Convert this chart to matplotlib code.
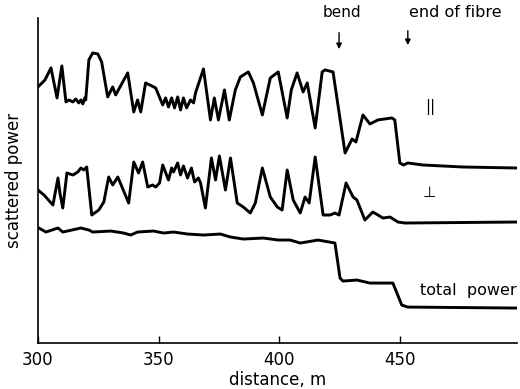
import matplotlib.pyplot as plt
import numpy as np

# distance (m) and scattered power (arbitrary units)
par_d = [300.0, 302.9, 305.4, 307.9, 309.9, 311.6, 312.8, 314.5, 315.7, 316.9, 317.8,
         318.6, 319.4, 319.8, 321.1, 322.7, 324.8, 326.4, 328.9, 331.0, 332.2, 337.2,
         339.7, 341.3, 342.6, 344.6, 348.8, 351.7, 352.9, 354.1, 355.4, 356.6, 357.9,
         359.1, 360.3, 361.6, 363.2, 364.5, 365.3, 368.6, 371.5, 373.1, 374.8, 377.3,
         379.3, 381.8, 383.9, 387.2, 389.3, 393.0, 396.3, 399.6, 403.3, 405.0, 407.4,
         409.9, 411.6, 414.9, 417.8, 419.0, 422.3, 427.3, 430.2, 431.8, 434.7, 437.6,
         440.9, 446.7, 447.9, 450.0, 451.5, 453.3, 459.5, 476.0, 498.3]
par_p = [256, 263, 275, 245, 277, 241, 243, 241, 244, 240, 243,
         239, 245, 243, 283, 290, 289, 281, 246, 256, 248, 270,
         231, 243, 231, 260, 255, 238, 245, 236, 245, 235, 246,
         233, 245, 235, 243, 240, 250, 274, 223, 245, 223, 253,
         223, 253, 266, 271, 260, 228, 265, 271, 225, 253, 270,
         251, 260, 215, 271, 273, 271, 190, 204, 201, 228, 219,
         223, 225, 223, 180, 178, 180, 178, 176, 175]

perp_d = [300.0, 302.5, 306.2, 308.3, 309.1, 310.3, 312.0, 314.5, 316.5, 317.8, 319.0,
          320.2, 322.3, 325.2, 327.3, 329.3, 331.0, 333.1, 337.6, 339.7, 341.7, 343.4,
          345.5, 347.5, 348.8, 350.4, 351.7, 354.1, 355.4, 356.2, 357.9, 359.1, 360.3,
          362.0, 363.6, 364.9, 366.5, 367.4, 369.4, 371.9, 373.6, 375.2, 377.7, 379.8,
          382.6, 385.1, 388.0, 390.1, 393.0, 396.3, 399.2, 401.2, 403.3, 405.8, 408.7,
          410.7, 412.4, 414.9, 418.2, 421.1, 423.1, 424.8, 427.7, 430.6, 432.2, 435.5,
          438.8, 443.0, 445.9, 449.2, 452.1, 498.3]
perp_p = [153, 148, 138, 165, 150, 135, 170, 168, 171, 175, 173,
          176, 128, 133, 141, 166, 158, 166, 140, 181, 170, 181,
          156, 158, 156, 160, 178, 163, 175, 171, 180, 168, 177,
          165, 175, 161, 165, 160, 135, 185, 163, 187, 153, 185,
          140, 136, 130, 140, 175, 146, 136, 133, 173, 143, 130,
          146, 140, 186, 128, 128, 130, 128, 160, 146, 143, 123,
          131, 125, 126, 121, 120, 121]

tot_d = [300.4, 303.3, 308.3, 310.3, 317.8, 321.1, 322.7, 330.2, 335.5, 338.4, 341.3,
         347.9, 352.1, 356.2, 362.0, 368.6, 375.6, 379.8, 385.1, 393.4, 399.6, 404.5,
         408.7, 416.1, 423.1, 425.2, 426.4, 432.2, 437.6, 447.1, 450.8, 453.3, 498.8]
tot_p = [115, 111, 115, 111, 115, 113, 111, 112, 110, 108, 111,
         112, 110, 111, 109, 108, 109, 106, 104, 105, 103, 103,
         100, 103, 100, 65, 62, 63, 60, 60, 38, 36, 35]

fig = plt.figure(figsize=(5.2, 3.89), dpi=100)
ax = fig.add_axes([0.073, 0.118, 0.921, 0.836])

for d, p in [(par_d, par_p), (perp_d, perp_p), (tot_d, tot_p)]:
    ax.plot(d, p, color='black', lw=2.1, solid_joinstyle='round')

ax.set_xlim(300, 498.5)
ax.set_ylim(0, 325)
ax.set_xticks([300, 350, 400, 450])
ax.set_yticks([])
ax.tick_params(axis='x', direction='in', length=5, width=1, labelsize=12, pad=6)
for s in ['top', 'right']:
    ax.spines[s].set_visible(False)
for s in ['left', 'bottom']:
    ax.spines[s].set_linewidth(1.2)

ax.set_xlabel('distance, m', fontsize=12, labelpad=1)
ax.set_ylabel('scattered power', fontsize=12, labelpad=11)

# annotations above the traces
arrow = dict(arrowstyle='-|>', color='black', lw=1.0, mutation_scale=8)
ax.text(426, 330, 'bend', ha='center', va='center', fontsize=11, clip_on=False)
ax.annotate('', xy=(424.8, 291), xytext=(424.8, 313), arrowprops=arrow, annotation_clip=False)
ax.text(473, 330, 'end of fibre', ha='center', va='center', fontsize=11.5, clip_on=False)
ax.annotate('', xy=(453.3, 295), xytext=(453.3, 315), arrowprops=arrow, annotation_clip=False)

ax.text(462.4, 236, '||', ha='center', va='center', fontsize=11)
ax.text(462.0, 151, '⊥', ha='center', va='center', fontsize=11)
ax.text(458.3, 53, 'total  power', ha='left', va='center', fontsize=11.5)

fig.savefig('out.png', dpi=100)
